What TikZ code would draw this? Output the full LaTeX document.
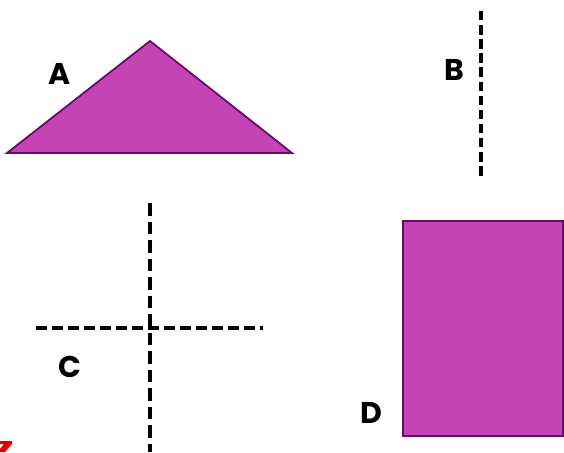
\documentclass[tikz,border=0pt]{standalone}
\usepackage{fontspec}
\setmainfont{Poppins}
\begin{document}
\begin{tikzpicture}[x=1pt,y=-1pt,
  shapefill/.style={fill=shapepurple,draw=shapeedge,line width=1.8pt,line join=miter},
  lbl/.style={font=\fontsize{30}{33}\selectfont\bfseries,text=black,inner sep=0pt},
  dashv/.style={draw=black,line width=3.6pt,dash pattern=on 12.5pt off 6pt},
  dashh/.style={draw=black,line width=3.6pt,dash pattern=on 10.5pt off 5.5pt},
  dashb/.style={draw=black,line width=3.6pt,dash pattern=on 9.5pt off 4.6pt}]
\definecolor{shapepurple}{HTML}{C444B4}
\definecolor{shapeedge}{HTML}{6A0A6A}
\useasboundingbox (0,0) rectangle (564,452);
% A: triangle
\coordinate (tA) at (150,41);
\coordinate (tL) at (7,153);
\coordinate (tR) at (292,153);
\path[shapefill] (tA) -- (tR) -- (tL) -- cycle;
\node[lbl] (labA) at (60,74) {A};
% B: vertical dashed line
\coordinate (b1) at (481,11);
\coordinate (b2) at (481,177);
\draw[dashb] (b1) -- (b2);
\node[lbl] (labB) at (454,70) {B};
% C: cross of dashed lines
\coordinate (cv1) at (150,203);
\coordinate (cv2) at (150,452);
\coordinate (ch1) at (36,328);
\coordinate (ch2) at (263,328);
\draw[dashh] (ch1) -- (ch2);
\draw[dashv] (cv1) -- (cv2);
\node[lbl] (labC) at (70,367) {C};
% D: rectangle
\path[shapefill] (403,221) rectangle (563,436);
\node[lbl] (labD) at (371,413) {D};
% red mark at bottom-left corner
\fill[red!90!black] (0,441) -- (12,441) -- (12,444) -- (5,452) -- (0,452) -- (0,449) -- (4,444) -- (0,444) -- cycle;
\end{tikzpicture}
\end{document}
